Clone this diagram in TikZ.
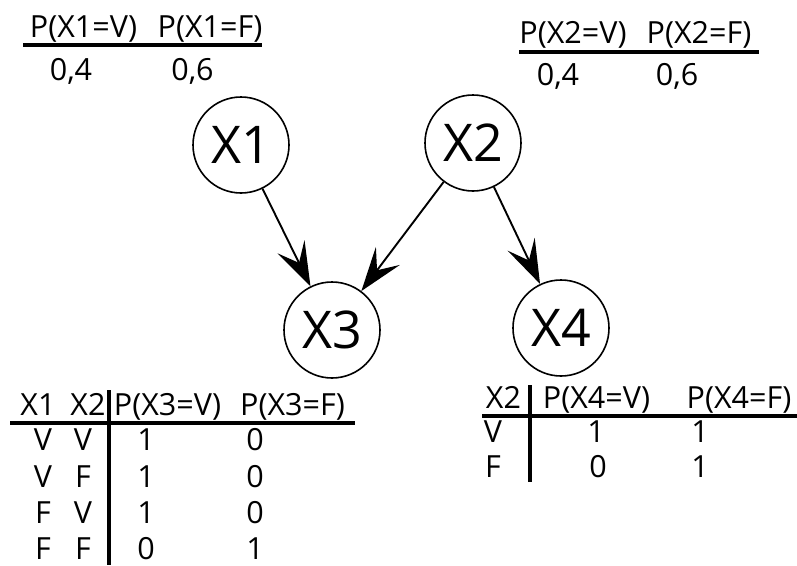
\documentclass[tikz,border=0pt]{standalone}
\usepackage{fontspec}
\setmainfont{Open Sans}
\usetikzlibrary{arrows.meta}
\begin{document}
\begin{tikzpicture}[x=1pt,y=-1pt,
  var/.style={circle,draw,line width=1.6pt,minimum size=96pt,inner sep=0pt,font=\fontsize{52}{56}\selectfont},
  txt/.style={anchor=base,inner sep=0pt,font=\fontsize{30.5}{34}\selectfont},
  rule/.style={line width=3.2pt},
  edge/.style={line width=1.9pt,-{Stealth[length=44pt,width=30pt,inset=18pt]}}]
\useasboundingbox (0,0) rectangle (797,565);
% nodes
\node[var] (x1) at (241,145) {X1};
\node[var] (x2) at (473,143) {X2};
\node[var] (x3) at (332,330) {X3};
\node[var] (x4) at (561,328) {X4};
\draw[edge] (x1) -- (x3);
\draw[edge] (x2) -- (x3);
\draw[edge] (x2) -- (x4);
% top-left table
\node[txt] (a1) at (83.5,37) {P(X1=V)};
\node[txt] (a2) at (210,37) {P(X1=F)};
\node[txt] (a3) at (71,80) {0,4};
\node[txt] (a4) at (192.5,80) {0,6};
\coordinate (al) at (23,45); \coordinate (ar) at (262,45);
\draw[rule] (al) -- (ar);
% top-right table
\node[txt] (b1) at (573,43) {P(X2=V)};
\node[txt] (b2) at (699,43) {P(X2=F)};
\node[txt] (b3) at (558,85) {0,4};
\node[txt] (b4) at (677,85) {0,6};
\coordinate (bl) at (519,52); \coordinate (br) at (759,52);
\draw[rule] (bl) -- (br);
% bottom-left table
\node[txt] (c1) at (38,415) {X1};
\node[txt] (c2) at (88,415) {X2};
\node[txt] (c3) at (167.5,415) {P(X3=V)};
\node[txt] (c4) at (292.5,415) {P(X3=F)};
\foreach \y/\p/\q/\r/\s [count=\i] in {450/V/V/1/0, 487/V/F/1/0, 523/F/V/1/0, 559/F/F/0/1}{
  \node[txt] (cr\i a) at (43,\y) {\p};
  \node[txt] (cr\i b) at (83,\y) {\q};
  \node[txt] (cr\i c) at (146,\y) {\r};
  \node[txt] (cr\i d) at (255,\y) {\s};
}
\coordinate (cl) at (10,423); \coordinate (cr) at (355,423);
\coordinate (ct) at (109,390); \coordinate (cb) at (109,565);
\draw[rule] (cl) -- (cr);
\draw[rule] (ct) -- (cb);
% bottom-right table
\node[txt] (d1) at (503.5,408) {X2};
\node[txt] (d2) at (596.5,408) {P(X4=V)};
\node[txt] (d3) at (739,408) {P(X4=F)};
\node[txt] (d4) at (493,442) {V};
\node[txt] (d5) at (596,442) {1};
\node[txt] (d6) at (700,442) {1};
\node[txt] (d7) at (493,477) {F};
\node[txt] (d8) at (598,477) {0};
\node[txt] (d9) at (700,477) {1};
\coordinate (dl) at (482,416); \coordinate (dr) at (797,416);
\coordinate (dt) at (530,385); \coordinate (db) at (530,482);
\draw[rule] (dl) -- (dr);
\draw[rule] (dt) -- (db);
\end{tikzpicture}
\end{document}
